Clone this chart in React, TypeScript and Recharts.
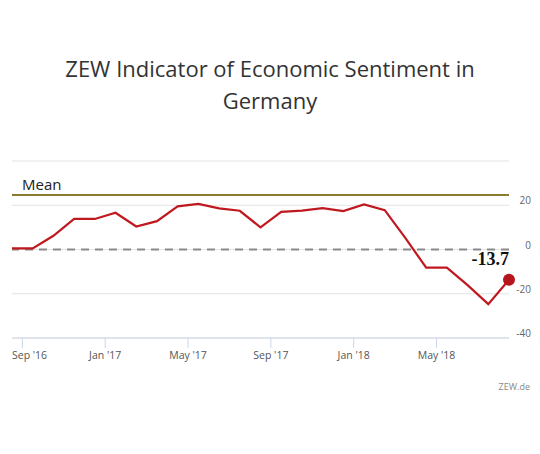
import React from 'react';
import { LineChart, Line, XAxis, YAxis, CartesianGrid, ReferenceLine } from 'recharts';

// monthly values Aug '16 .. Aug '18
const months = [
  'Aug 16', 'Sep 16', 'Oct 16', 'Nov 16', 'Dec 16',
  'Jan 17', 'Feb 17', 'Mar 17', 'Apr 17', 'May 17', 'Jun 17', 'Jul 17', 'Aug 17',
  'Sep 17', 'Oct 17', 'Nov 17', 'Dec 17',
  'Jan 18', 'Feb 18', 'Mar 18', 'Apr 18', 'May 18', 'Jun 18', 'Jul 18', 'Aug 18',
];
const sentiment = [
  0.5, 0.5, 6.2, 13.8, 13.8,
  16.6, 10.4, 12.8, 19.5, 20.6, 18.6, 17.5, 10.0,
  17.0, 17.6, 18.7, 17.4,
  20.4, 17.8, 5.1, -8.2, -8.2, -16.1, -24.7, -13.7,
];
const tickPositions = [0.5, 4.5, 8.5, 12.5, 16.5, 20.5];
const tickLabels = ["Sep '16", "Jan '17", "May '17", "Sep '17", "Jan '18", "May '18"];
const yTicks = [-40, -20, 0, 20, 40];
const MEAN = 24.6;

const data = months.map((m, i) => ({ t: i, month: m, value: sentiment[i] }));

const FONT = '"Open Sans", sans-serif';

const XTick = (props: any) => {
  const { x, y, payload, index } = props;
  const label = tickLabels[tickPositions.indexOf(payload.value)];
  const first = index === 0;
  return (
    <text
      x={first ? 12 : x}
      y={y + 9}
      textAnchor={first ? 'start' : 'middle'}
      fontFamily={FONT}
      fontSize={10.5}
      fill="#555"
    >
      {label}
    </text>
  );
};

const YTick = (props: any) => {
  const { y, payload } = props;
  if (payload.value === 40) return <g />;
  return (
    <text x={531} y={y - 1} textAnchor="end" fontFamily={FONT} fontSize={10} fill="#666">
      {payload.value}
    </text>
  );
};

const MeanLabel = (props: any) => {
  const { viewBox } = props;
  return (
    <text x={viewBox.x + 10} y={viewBox.y - 5} fontFamily={FONT} fontSize={15} fill="#222">
      Mean
    </text>
  );
};

const EndDot = (props: any) => {
  const { cx, cy, index } = props;
  if (index !== sentiment.length - 1) return <g key={index} />;
  return (
    <g key={index}>
      <circle cx={cx} cy={cy} r={6} fill="#b5161c" />
      <text
        x={cx}
        y={cy - 15}
        textAnchor="end"
        fontFamily='"Liberation Serif", serif'
        fontWeight="bold"
        fontSize={18}
        fill="#111"
      >
        {sentiment[index]}
      </text>
    </g>
  );
};

export default function App() {
  return (
    <div style={{ position: 'absolute', left: 0, top: 0, width: 540, height: 454, background: '#fff' }}>
      <div
        style={{
          position: 'absolute',
          top: 52,
          left: 0,
          width: 540,
          textAlign: 'center',
          fontFamily: FONT,
          fontSize: 22,
          lineHeight: '32px',
          color: '#333',
        }}
      >
        ZEW Indicator of Economic Sentiment in
        <br />
        Germany
      </div>
      <LineChart
        width={540}
        height={454}
        data={data}
        margin={{ top: 161, right: 0, bottom: 86, left: 12 }}
      >
        <CartesianGrid vertical={false} stroke="#e3e3e3" />
        <XAxis
          type="number"
          dataKey="t"
          domain={[0, 24]}
          ticks={tickPositions}
          height={30}
          tick={<XTick />}
          tickSize={10}
          tickLine={{ stroke: '#ccd6eb' }}
          axisLine={{ stroke: '#ccd6eb' }}
          interval={0}
        />
        <YAxis
          orientation="right"
          domain={[-40, 40]}
          ticks={yTicks}
          width={31}
          axisLine={false}
          tickLine={false}
          tick={<YTick />}
          interval={0}
        />
        <ReferenceLine y={0} stroke="#8a8a8a" strokeWidth={2} strokeDasharray="8 6" />
        <ReferenceLine y={MEAN} stroke="#8c7b2a" strokeWidth={2} label={<MeanLabel />} />
        <Line
          type="linear"
          dataKey="value"
          stroke="#c0181f"
          strokeWidth={2.2}
          dot={<EndDot />}
          activeDot={false}
          isAnimationActive={false}
        />
      </LineChart>
      <div
        style={{
          position: 'absolute',
          top: 380,
          right: 10,
          fontFamily: FONT,
          fontSize: 9,
          color: '#888',
        }}
      >
        ZEW.de
      </div>
    </div>
  );
}
